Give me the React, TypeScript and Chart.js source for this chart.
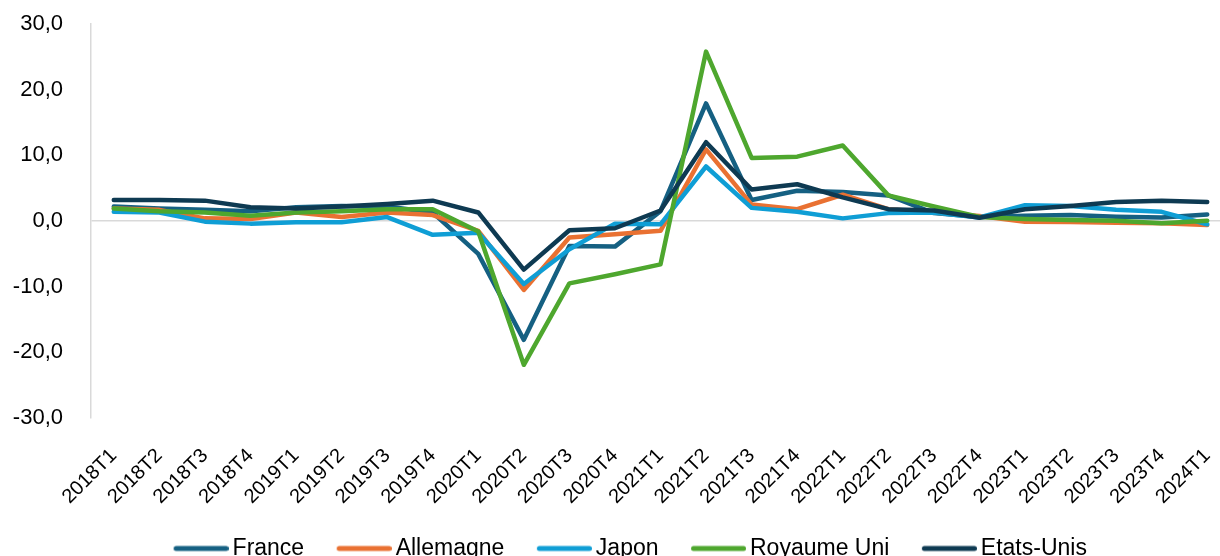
import { useEffect, useRef } from 'react';
import { Chart, registerables } from 'chart.js';

Chart.register(...registerables);

const categories = [
  '2018T1', '2018T2', '2018T3', '2018T4',
  '2019T1', '2019T2', '2019T3', '2019T4',
  '2020T1', '2020T2', '2020T3', '2020T4',
  '2021T1', '2021T2', '2021T3', '2021T4',
  '2022T1', '2022T2', '2022T3', '2022T4',
  '2023T1', '2023T2', '2023T3', '2023T4',
  '2024T1',
];

const france = [2.2, 1.9, 1.7, 1.5, 2.1, 2.3, 2.2, 1.3, -5.0, -18.1, -3.8, -3.9, 1.5, 17.9, 3.2, 4.6, 4.4, 3.9, 1.2, 0.6, 0.8, 0.9, 0.65, 0.55, 1.0];
const allemagne = [1.9, 1.7, 0.4, 0.3, 1.3, 0.6, 1.3, 0.9, -1.5, -10.5, -2.5, -2.0, -1.5, 10.9, 2.5, 1.8, 4.0, 1.8, 1.3, 0.75, -0.1, -0.15, -0.25, -0.35, -0.6];
const japon = [1.4, 1.3, -0.1, -0.4, -0.2, -0.2, 0.6, -2.1, -1.8, -9.6, -4.3, -0.4, -0.5, 8.3, 2.0, 1.4, 0.4, 1.2, 1.3, 0.55, 2.4, 2.3, 1.7, 1.4, -0.5];
const royaumeUni = [1.9, 1.5, 1.3, 0.8, 1.3, 1.5, 1.8, 1.8, -1.6, -21.9, -9.5, -8.1, -6.6, 25.8, 9.6, 9.8, 11.5, 3.9, 2.2, 0.6, 0.3, 0.15, 0.05, -0.35, 0.05];
const etatsUnis = [3.2, 3.2, 3.1, 2.1, 1.9, 2.2, 2.6, 3.1, 1.3, -7.4, -1.4, -1.1, 1.6, 12.0, 4.8, 5.6, 3.6, 1.8, 1.6, 0.5, 1.8, 2.3, 2.9, 3.1, 2.9];

const seriesNames = ['France', 'Allemagne', 'Japon', 'Royaume Uni', 'Etats-Unis'];
const seriesValues = [france, allemagne, japon, royaumeUni, etatsUnis];
const seriesColors = ['#156082', '#E97132', '#0F9ED5', '#4EA72E', '#0E3A52'];

const yMin = -30;
const yMax = 30;
const yStep = 10;

const CANVAS_W = 1240;
const CANVAS_H = 570;
const LEGEND_FONT = 23;
const LEGEND_BOX = 78;
const LEGEND_PAD = 2;
const LEGEND_IMG_W = LEGEND_BOX + LEGEND_FONT - 8;
const LEGEND_LINE_START = LEGEND_BOX + LEGEND_FONT - 63;
const Y_AXIS_W = 91;
const PLOT_BOTTOM = 418;
const X_AXIS_H = CANVAS_H - (LEGEND_FONT + LEGEND_PAD + 10) - PLOT_BOTTOM;

function makeLegendLine(color: string) {
  const c = document.createElement('canvas');
  c.width = LEGEND_IMG_W;
  c.height = 8;
  const g = c.getContext('2d');
  if (g) {
    g.strokeStyle = color;
    g.lineWidth = 5;
    g.lineCap = 'round';
    g.beginPath();
    g.moveTo(LEGEND_LINE_START + 2.5, 4);
    g.lineTo(LEGEND_IMG_W - 2.5, 4);
    g.stroke();
  }
  return c;
}

export default function App() {
  const ref = useRef<HTMLCanvasElement | null>(null);

  useEffect(() => {
    if (!ref.current) return;
    const legendImgs = seriesColors.map(makeLegendLine);
    const chart = new Chart(ref.current, {
      type: 'line',
      data: {
        labels: categories,
        datasets: seriesNames.map((name, i) => ({
          label: name,
          data: seriesValues[i],
          borderColor: seriesColors[i],
          backgroundColor: seriesColors[i],
          borderWidth: 4.5,
          borderJoinStyle: 'round',
          borderCapStyle: 'round',
          pointRadius: 0,
          pointHoverRadius: 0,
          tension: 0,
          fill: false,
          order: seriesNames.length - i,
        })),
      },
      options: {
        responsive: false,
        animation: false,
        devicePixelRatio: 1,
        layout: { padding: { left: 0, right: 10, top: 24, bottom: 0 } },
        plugins: {
          tooltip: { enabled: false },
          legend: {
            position: 'bottom',
            labels: {
              usePointStyle: true,
              pointStyleWidth: LEGEND_BOX,
              padding: LEGEND_PAD,
              color: '#000',
              font: { family: '"Liberation Sans", Arial, sans-serif', size: LEGEND_FONT },
              generateLabels: (ch: any) =>
                ch.data.datasets.map((ds: any, i: number) => ({
                  text: ds.label,
                  fillStyle: seriesColors[i],
                  strokeStyle: seriesColors[i],
                  lineWidth: 0,
                  pointStyle: legendImgs[i],
                  hidden: false,
                  datasetIndex: i,
                  fontColor: '#000',
                })),
            },
          },
        },
        scales: {
          x: {
            offset: true,
            grid: {
              display: true,
              drawOnChartArea: false,
              drawTicks: true,
              tickLength: 24,
              tickColor: 'rgba(0,0,0,0)',
            },
            border: { display: false },
            afterFit: (scale: any) => {
              scale.height = X_AXIS_H;
            },
            ticks: {
              minRotation: 45,
              maxRotation: 45,
              autoSkip: false,
              padding: 2,
              color: '#000',
              font: { family: '"Liberation Sans", Arial, sans-serif', size: 20 },
            },
          },
          y: {
            min: yMin,
            max: yMax,
            grid: {
              drawTicks: true,
              tickLength: 26,
              tickColor: 'rgba(0,0,0,0)',
              color: (ctx: any) => (ctx.tick && ctx.tick.value === 0 ? '#D9D9D9' : 'rgba(0,0,0,0)'),
              lineWidth: 1.5,
            },
            border: { display: true, color: '#D9D9D9', width: 1.5 },
            afterFit: (scale: any) => {
              scale.width = Y_AXIS_W;
            },
            ticks: {
              stepSize: yStep,
              padding: 2,
              color: '#000',
              font: { family: '"Liberation Sans", Arial, sans-serif', size: 22 },
              callback: (v: any) => Number(v).toFixed(1).replace('.', ','),
            },
          },
        },
      },
    });
    return () => chart.destroy();
  }, []);

  return (
    <div style={{ position: 'absolute', left: 0, top: 0, width: 1220, height: 556, overflow: 'hidden', background: '#fff' }}>
      <canvas ref={ref} width={CANVAS_W} height={CANVAS_H} style={{ display: 'block' }} />
    </div>
  );
}
